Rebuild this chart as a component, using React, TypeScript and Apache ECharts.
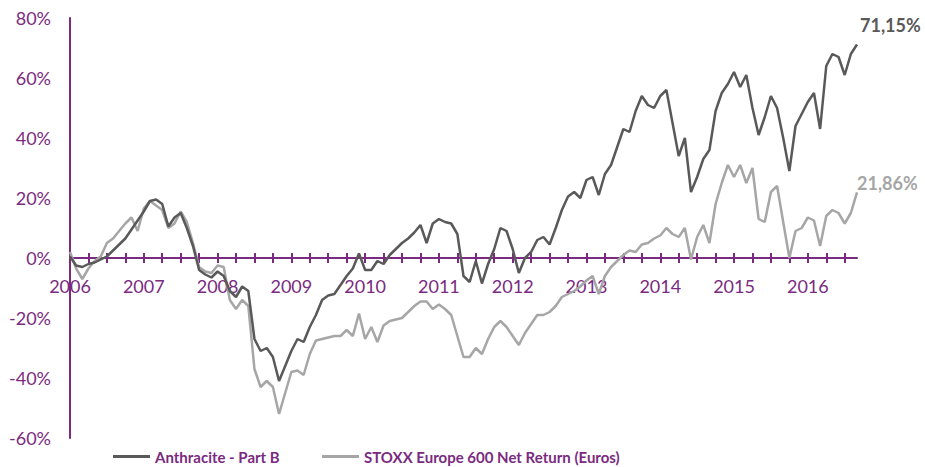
import React, { useEffect, useRef } from "react";
import * as echarts from "echarts";

// Monthly observations, first point at the axis start (labelled 2006)
const startYear = 2006;
const pointCount = 129;
const yearLabels = ["2006", "2007", "2008", "2009", "2010", "2011", "2012", "2013", "2014", "2015", "2016"];

const anthraciteName = "Anthracite - Part B";
const stoxxName = "STOXX Europe 600 Net Return (Euros)";

// Cumulative performance, %
const anthracite = [
  0.5, -2.5, -3, -2, -1.5, -0.5, 0.5, 2.5, 4.5, 6.5, 9.5, 12.5,
  15.5, 19, 19.5, 18, 10.5, 13.5, 15, 10, 4, -4, -5.5, -6.5,
  -4.5, -6, -11, -13, -9.5, -11, -27, -31, -30, -33, -41, -36,
  -31, -27, -28, -23, -19, -14, -12.5, -12, -9, -6, -3.5, 1.5,
  -4, -4, -1, -2, 1, 3, 5, 6.5, 8.5, 11, 5, 11.5,
  13, 12, 11.5, 8, -6, -8, -1, -8.5, -2, 3, 10, 9,
  3, -5, 0, 2, 6, 7, 4.5, 10, 16, 20.5, 22, 20,
  26, 27, 21, 28, 31, 37, 43, 42, 49, 54, 51, 50,
  54, 56, 45, 34, 40, 22, 27, 33, 36, 49, 55, 58,
  62, 57, 61, 50, 41, 47, 54, 50, 40, 29, 44, 48,
  52, 55, 43, 64, 68, 67, 61, 68, 71.15,
];

const stoxx = [
  2, -3.5, -7, -3.5, -1, 0.5, 5, 6.5, 9, 11.5, 13.5, 9,
  16.5, 19, 17.5, 16, 10, 11.5, 15.5, 12, 5, -3, -4.5, -5,
  -2.5, -3, -14, -17, -14, -16, -37, -43, -41, -43, -52, -45,
  -38, -37.5, -39, -32, -27.5, -27, -26.5, -26, -26, -24, -26, -18.5,
  -27, -23, -28, -22.5, -21, -20.5, -20, -18, -16, -14.5, -14.5, -17,
  -15.5, -17, -19, -26, -33, -33, -30, -32, -27, -23, -21, -23,
  -26, -29, -25, -22, -19, -19, -18, -16, -13, -12, -11, -9.5,
  -7.5, -6, -12, -6, -3, -1, 1, 2.5, 2, 4.5, 5, 6.5,
  7.5, 10, 8, 7, 10, -0.5, 7, 11, 5, 18, 25, 31,
  27, 31, 25, 30, 13, 12, 22, 24, 12, 0, 9, 10,
  13.5, 12.5, 4, 14, 16, 15, 11.5, 15, 21.86,
];

const anthraciteEnd = "71,15%";
const stoxxEnd = "21,86%";

const yMin = -60;
const yMax = 80;
const yStep = 20;

const PURPLE = "#7A2B80";
const DARK = "#595959";
const LIGHT = "#A6A6A6";
const FONT = "Lato";

const GRID_TOP = 18;
const GRID_BOTTOM = 29;
const CHART_H = 467;

const categories: string[] = [];
for (let i = 0; i < pointCount; i++) {
  const y = startYear + Math.floor(i / 12);
  const m = (i % 12) + 1;
  categories.push(`${y}-${m < 10 ? "0" + m : m}`);
}

export default function App() {
  const ref = useRef<HTMLDivElement>(null);

  useEffect(() => {
    if (!ref.current) return;
    const chart = echarts.init(ref.current, undefined, { renderer: "svg" });

    const tickInterval = (i: number) => i % 3 === 0;
    const labelInterval = (i: number) => i % 12 === 0;

    // pixel position of the zero line inside the grid
    const plotH = CHART_H - GRID_TOP - GRID_BOTTOM;
    const zeroFromTop = (plotH * yMax) / (yMax - yMin);
    const zeroFromBottom = plotH - zeroFromTop;

    const legendText = { color: PURPLE, fontWeight: "bold", fontSize: 15, fontFamily: FONT };

    chart.setOption({
      animation: false,
      textStyle: { fontFamily: FONT },
      grid: { left: 70, right: 68, top: GRID_TOP, bottom: GRID_BOTTOM, containLabel: false },
      legend: [
        {
          left: 113,
          top: 449,
          padding: 0,
          data: [{ name: anthraciteName, icon: "rect" }],
          itemWidth: 37,
          itemHeight: 3,
          textStyle: legendText,
        },
        {
          left: 322,
          top: 449,
          padding: 0,
          data: [{ name: stoxxName, icon: "rect" }],
          itemWidth: 37,
          itemHeight: 3,
          textStyle: legendText,
        },
      ],
      xAxis: [
        {
          type: "category",
          data: categories,
          boundaryGap: false,
          position: "bottom",
          offset: -zeroFromBottom,
          axisLine: { show: true, onZero: false, lineStyle: { color: PURPLE, width: 2 } },
          axisTick: { show: true, interval: tickInterval, length: 5, lineStyle: { color: PURPLE, width: 2 } },
          axisLabel: {
            show: true,
            interval: labelInterval,
            formatter: (_v: string, idx: number) => yearLabels[Math.floor(idx / 12)] ?? "",
            color: PURPLE,
            fontSize: 18,
            fontFamily: FONT,
            margin: 19,
          },
          splitLine: { show: false },
        },
        {
          type: "category",
          data: categories,
          boundaryGap: false,
          position: "top",
          offset: -zeroFromTop,
          axisLine: { show: false, onZero: false },
          axisTick: { show: true, interval: tickInterval, length: 5, lineStyle: { color: PURPLE, width: 2 } },
          axisLabel: { show: false },
          splitLine: { show: false },
        },
      ],
      yAxis: {
        type: "value",
        min: yMin,
        max: yMax,
        interval: yStep,
        axisLine: { show: true, lineStyle: { color: PURPLE, width: 2 } },
        axisTick: { show: false },
        splitLine: { show: false },
        axisLabel: {
          color: PURPLE,
          fontSize: 18,
          fontFamily: FONT,
          margin: 19,
          formatter: "{value}%",
        },
      },
      series: [
        {
          name: stoxxName,
          type: "line",
          data: stoxx,
          symbol: "none",
          showSymbol: false,
          lineStyle: { color: LIGHT, width: 2.5 },
          itemStyle: { color: LIGHT },
          z: 2,
          endLabel: {
            show: true,
            formatter: () => stoxxEnd,
            color: LIGHT,
            fontWeight: "bold",
            fontSize: 18,
            fontFamily: FONT,
            distance: 0,
            offset: [0, -9],
          },
        },
        {
          name: anthraciteName,
          type: "line",
          data: anthracite,
          symbol: "none",
          showSymbol: false,
          lineStyle: { color: DARK, width: 2.5 },
          itemStyle: { color: DARK },
          z: 3,
          endLabel: {
            show: true,
            formatter: () => anthraciteEnd,
            color: DARK,
            fontWeight: "bold",
            fontSize: 18,
            fontFamily: FONT,
            distance: 3,
            offset: [0, -20],
          },
        },
      ],
    });

    return () => chart.dispose();
  }, []);

  return (
    <div
      ref={ref}
      style={{ position: "fixed", left: 0, top: 0, width: 925, height: 467, background: "#fff" }}
    />
  );
}
